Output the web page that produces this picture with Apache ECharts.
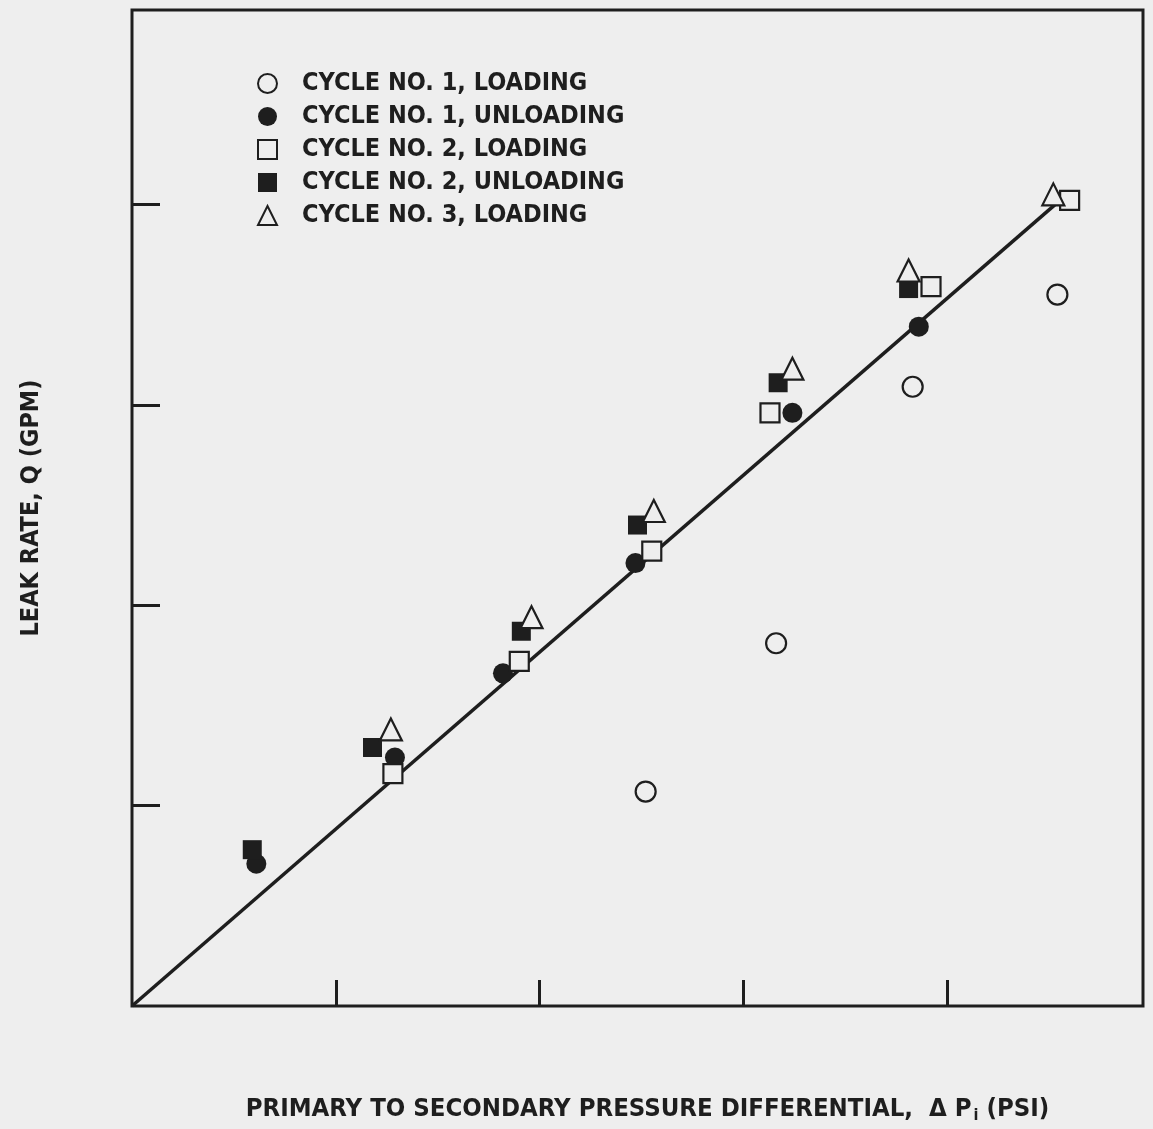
<!DOCTYPE html>
<html>
<head>
<meta charset="utf-8">
<script src="https://cdn.jsdelivr.net/npm/echarts@6/dist/echarts.min.js"></script>
<style>
html,body{margin:0;padding:0;background:#ededed;}
#chart{width:1153px;height:1129px;}
</style>
</head>
<body>
<div id="chart"></div>
<script>
// Data (axis units: one tick spacing = 1 unit; no tick labels on original)
const cycle1Loading   = [[2.52,1.07],[3.16,1.81],[3.83,3.09],[4.54,3.55]];
const cycle1Unloading = [[0.61,0.71],[1.29,1.24],[1.82,1.66],[2.47,2.21],[3.24,2.96],[3.86,3.39]];
const cycle2Loading   = [[1.28,1.16],[1.90,1.72],[2.55,2.27],[3.13,2.96],[3.92,3.59],[4.60,4.02]];
const cycle2Unloading = [[0.59,0.78],[1.18,1.29],[1.91,1.87],[2.48,2.40],[3.17,3.11],[3.81,3.58]];
const cycle3Loading   = [[1.27,1.38],[1.96,1.94],[2.56,2.47],[3.24,3.18],[3.81,3.67],[4.52,4.05]];
const fitLine         = [[0,0],[4.53,4.0]];
const tickValues      = [1,2,3,4];
const seriesNames = ['CYCLE NO. 1, LOADING','CYCLE NO. 1, UNLOADING','CYCLE NO. 2, LOADING','CYCLE NO. 2, UNLOADING','CYCLE NO. 3, LOADING'];

const INK = '#1e1e1e';
const PAPER = '#eeeeee';
const FONT = "'Liberation Sans Narrow','DejaVu Sans Condensed','Roboto Condensed',sans-serif";

function sc(name, data, symbol, filled, size){
  return {
    name: name, type: 'scatter', data: data, symbol: symbol, symbolSize: size,
    itemStyle: {color: filled ? INK : PAPER, borderColor: INK, borderWidth: filled ? 0 : 2.2, opacity: 1},
    z: 3
  };
}

const chart = echarts.init(document.getElementById('chart'), null, {renderer:'canvas'});
chart.setOption({
  backgroundColor: PAPER,
  animation: false,
  grid: {left:132, right:10, top:10, bottom:121, show:true, borderColor:INK, borderWidth:3, backgroundColor:'transparent'},
  xAxis: {
    type:'value', min:0, max:4.96, interval:1,
    axisLine:{show:false}, splitLine:{show:false},
    axisTick:{show:true, inside:true, length:26, customValues:tickValues, lineStyle:{color:INK, width:3}},
    axisLabel:{show:false},
    name:'{t|PRIMARY TO SECONDARY PRESSURE DIFFERENTIAL,  \u0394 P}{s|i}{t| (PSI)}',
    nameLocation:'middle', nameGap:88,
    nameTextStyle:{padding:[0,0,0,20], rich:{
      t:{fontFamily:FONT, fontSize:25.5, fontWeight:'bold', color:INK},
      s:{fontFamily:FONT, fontSize:16, fontWeight:'bold', color:INK, verticalAlign:'bottom', padding:[14,0,0,2]}
    }}
  },
  yAxis: {
    type:'value', min:0, max:4.97, interval:1,
    axisLine:{show:false}, splitLine:{show:false},
    axisTick:{show:true, inside:true, length:28, customValues:tickValues, lineStyle:{color:INK, width:3}},
    axisLabel:{show:false},
    name:'LEAK RATE, Q (GPM)', nameLocation:'middle', nameGap:88, nameRotate:90,
    nameTextStyle:{fontFamily:FONT, fontSize:25, fontWeight:'bold', color:INK}
  },
  legend: {
    orient:'vertical', left:252, top:66, itemGap:8, itemWidth:19, itemHeight:19,
    data: seriesNames,
    textStyle:{fontFamily:FONT, fontSize:25, fontWeight:'bold', color:INK, padding:[0,0,0,20]},
    selectedMode:false
  },
  series: [
    {type:'line', data:fitLine, symbol:'none', lineStyle:{color:INK, width:3.5}, z:2, silent:true},
    sc(seriesNames[0], cycle1Loading, 'circle', false, 20),
    sc(seriesNames[1], cycle1Unloading, 'circle', true, 20),
    sc(seriesNames[2], cycle2Loading, 'rect', false, 19),
    sc(seriesNames[3], cycle2Unloading, 'rect', true, 19),
    sc(seriesNames[4], cycle3Loading, 'triangle', false, 22)
  ]
});
</script>
</body>
</html>
